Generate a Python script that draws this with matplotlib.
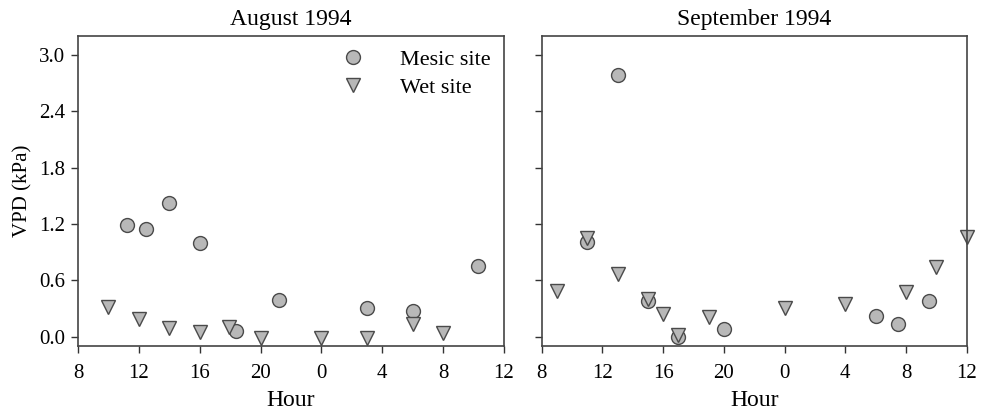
import matplotlib.pyplot as plt

# hours counted continuously from 8 h on day one (24 = midnight)
aug_mesic_hour = [11.2, 12.5, 14.0, 16.0, 18.4, 21.2, 27.0, 30.0, 34.3]
aug_mesic_vpd = [1.19, 1.15, 1.42, 1.00, 0.06, 0.39, 0.30, 0.27, 0.75]
aug_wet_hour = [10.0, 12.0, 14.0, 16.0, 17.9, 20.0, 24.0, 27.0, 30.0, 32.0]
aug_wet_vpd = [0.31, 0.19, 0.09, 0.05, 0.10, -0.01, -0.01, -0.01, 0.13, 0.04]

sep_mesic_hour = [11.0, 13.0, 15.0, 17.0, 20.0, 30.0, 31.5, 33.5]
sep_mesic_vpd = [1.01, 2.79, 0.38, 0.0, 0.08, 0.22, 0.13, 0.38]
sep_wet_hour = [9.0, 11.0, 13.0, 15.0, 16.0, 17.0, 19.0, 24.0, 28.0, 32.0, 34.0, 36.0]
sep_wet_vpd = [0.49, 1.05, 0.67, 0.40, 0.24, 0.02, 0.21, 0.30, 0.35, 0.47, 0.74, 1.06]

xticks = [8, 12, 16, 20, 24, 28, 32, 36]
xticklabels = ['8', '12', '16', '20', '0', '4', '8', '12']
yticks = [0.0, 0.6, 1.2, 1.8, 2.4, 3.0]

plt.rcParams['font.family'] = ['Liberation Serif', 'DejaVu Serif']

fill = '#b8b8b8'
edge = '#4a4a4a'

fig = plt.figure(figsize=(9.86, 4.17), dpi=100)
ax1 = fig.add_axes([0.0791, 0.1703, 0.4321, 0.7434])
ax2 = fig.add_axes([0.5494, 0.1703, 0.4310, 0.7434])

panels = [
    (ax1, 'August 1994', aug_mesic_hour, aug_mesic_vpd, aug_wet_hour, aug_wet_vpd),
    (ax2, 'September 1994', sep_mesic_hour, sep_mesic_vpd, sep_wet_hour, sep_wet_vpd),
]

for ax, title, mh, mv, wh, wv in panels:
    ax.plot(mh, mv, 'o', ms=10, mfc=fill, mec=edge, mew=1.0, label='Mesic site',
            clip_on=False)
    ax.plot(wh, wv, 'v', ms=10, mfc=fill, mec=edge, mew=1.0, label='Wet site',
            clip_on=False)
    ax.set_xlim(8, 36)
    ax.set_ylim(-0.1, 3.2)
    ax.set_xticks(xticks)
    ax.set_xticklabels(xticklabels)
    ax.set_yticks(yticks)
    ax.tick_params(direction='out', length=5, width=1, color='#333333',
                   labelsize=15)
    ax.tick_params(axis='x', pad=8)
    ax.tick_params(axis='y', pad=4)
    for s in ax.spines.values():
        s.set_color('#444444')
        s.set_linewidth(1.2)
    ax.set_title(title, fontsize=17, pad=8)
    ax.set_xlabel('Hour', fontsize=17, labelpad=5)

ax1.set_yticklabels(['%.1f' % v for v in yticks])
ax1.set_ylabel('VPD (kPa)', fontsize=15, labelpad=5)
ax2.set_yticklabels([])

ax1.legend(loc='upper right', frameon=False, fontsize=16, handletextpad=1.1,
           borderaxespad=0.2, labelspacing=0.35)

fig.savefig('out.png', dpi=100)
